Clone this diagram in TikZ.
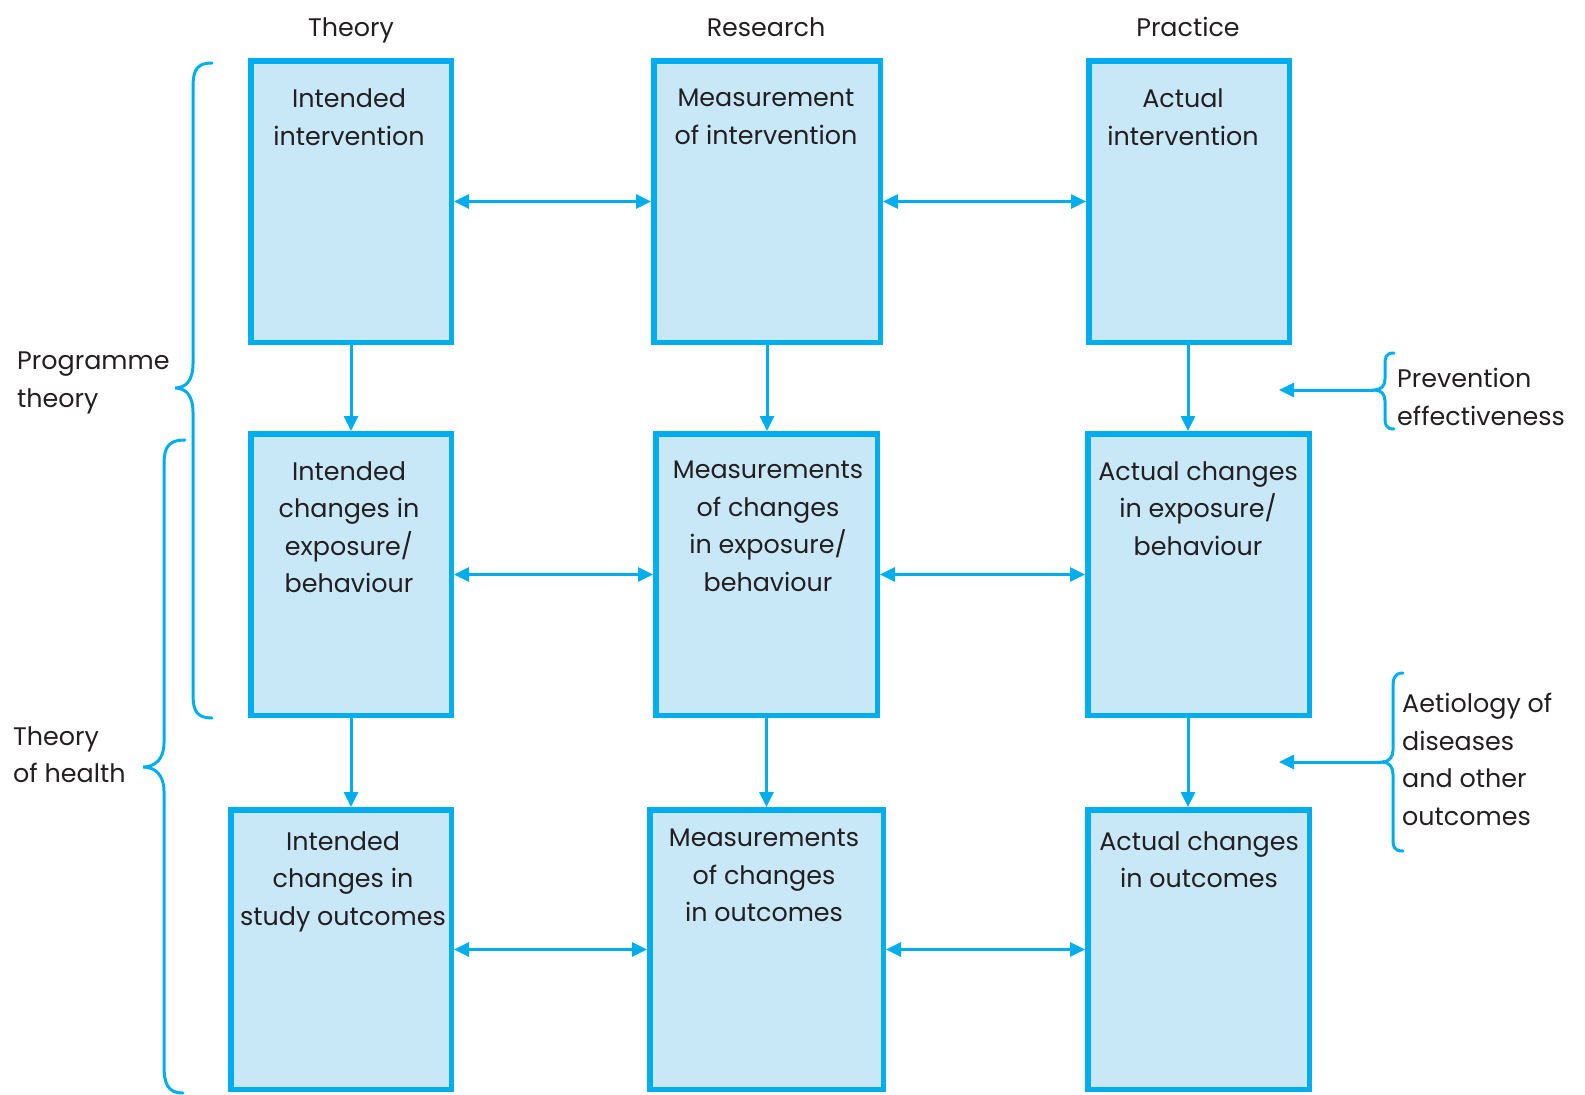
\documentclass[tikz,border=0pt]{standalone}
\usepackage{fontspec}
\setmainfont{Poppins}
\usetikzlibrary{arrows.meta,calc}
\definecolor{cy}{HTML}{00AEEF}
\definecolor{fl}{HTML}{C8E8F8}
\definecolor{tx}{HTML}{231F20}
\begin{document}
\begin{tikzpicture}[x=1pt,y=-1pt,
 box/.style={draw=cy, fill=fl, line width=5.5pt, inner sep=0pt},
 txt/.style={text=tx, align=center, anchor=north, inner sep=0pt, font=\fontsize{25.4}{37.6}\selectfont, execute at begin node=\strut},
 ltxt/.style={text=tx, align=left, anchor=north west, inner sep=0pt, font=\fontsize{25.4}{37.6}\selectfont, execute at begin node=\strut},
 hd/.style={text=tx, anchor=base, inner sep=0pt, font=\fontsize{25.4}{37.6}\selectfont},
 arr/.style={draw=cy, line width=3pt, -{Triangle[length=15pt,width=14pt]}},
 darr/.style={draw=cy, line width=3pt, {Triangle[length=15pt,width=14pt]}-{Triangle[length=15pt,width=14pt]}},
 brc/.style={draw=cy, line width=3pt, line cap=round}]
\useasboundingbox (0,0) rectangle (1585,1095);

% headers
\node[hd] (hT) at (351,36) {Theory};
\node[hd] (hR) at (766,36) {Research};
\node[hd] (hP) at (1188,36) {Practice};

% boxes
\node[box, minimum width=200.5pt, minimum height=281.5pt] (T1) at (351,201.5) {};
\node[box, minimum width=226.5pt, minimum height=281.5pt] (R1) at (767,201.5) {};
\node[box, minimum width=200.5pt, minimum height=281.5pt] (P1) at (1189,201.5) {};
\node[box, minimum width=200.5pt, minimum height=281.5pt] (T2) at (351,574.5) {};
\node[box, minimum width=221.5pt, minimum height=281.5pt] (R2) at (766.5,574.5) {};
\node[box, minimum width=221.5pt, minimum height=281.5pt] (P2) at (1198.5,574.5) {};
\node[box, minimum width=220.5pt, minimum height=279.5pt] (T3) at (341,949.5) {};
\node[box, minimum width=233.5pt, minimum height=279.5pt] (R3) at (766.5,949.5) {};
\node[box, minimum width=221.5pt, minimum height=279.5pt] (P3) at (1198.5,949.5) {};

% box texts
\node[txt] (T1t) at (349,89) {Intended\\intervention};
\node[txt] (R1t) at (766,89) {Measurement\\of intervention};
\node[txt] (P1t) at (1183,89) {Actual\\intervention};
\node[txt] (T2t) at (349,461) {Intended\\changes in\\exposure/\\behaviour};
\node[txt] (R2t) at (768,461) {Measurements\\of changes\\in exposure/\\behaviour};
\node[txt] (P2t) at (1198,461) {Actual changes\\in exposure/\\behaviour};
\node[txt] (T3t) at (343,831) {Intended\\changes in\\study outcomes};
\node[txt] (R3t) at (764,829) {Measurements\\of changes\\in outcomes};
\node[txt] (P3t) at (1199,831) {Actual changes\\in outcomes};

% horizontal arrows
\draw[darr] (T1.east) -- (R1.west);
\draw[darr] (R1.east) -- (P1.west);
\draw[darr] (T2.east) -- (R2.west);
\draw[darr] (R2.east) -- (P2.west);
\draw[darr] (T3.east) -- (R3.west);
\draw[darr] (R3.east) -- (P3.west);

% vertical arrows
\coordinate (pc) at (1188,0);
\draw[arr] (T1.south) -- (T1.south |- T2.north);
\draw[arr] (R1.south) -- (R1.south |- R2.north);
\draw[arr] (pc |- P1.south) -- (pc |- P2.north);
\draw[arr] (T2.south) -- (T2.south |- T3.north);
\draw[arr] (R2.south) -- (R2.south |- R3.north);
\draw[arr] (pc |- P2.south) -- (pc |- P3.north);

% left braces
\draw[brc] (212,63) .. controls (193,63) and (193,75) .. (193,92) -- (193,364) .. controls (193,380) and (186,388) .. (175,388) .. controls (186,388) and (193,396) .. (193,412) -- (193,690) .. controls (193,706) and (193,718) .. (212,718);
\node[ltxt] (pt) at (17,352) {Programme\\theory};

\draw[brc] (185,440) .. controls (164,440) and (164,452) .. (164,470) -- (164,743) .. controls (164,759) and (155,767) .. (143,767) .. controls (155,767) and (164,775) .. (164,791) -- (164,1066) .. controls (164,1084) and (168,1093) .. (183,1093);
\node[ltxt] (th) at (13,726) {Theory\\of health};

% right braces
\coordinate (pb) at (1374,390);
\coordinate (pe) at (1279,390);
\draw[brc] (1394,353) .. controls (1385,353) and (1385,358) .. (1385,366) -- (1385,379) .. controls (1385,386) and (1381,390) .. (pb) .. controls (1381,390) and (1385,394) .. (1385,401) -- (1385,416) .. controls (1385,424) and (1385,429) .. (1394,429);
\draw[arr] (pb) -- (pe);
\node[ltxt] (pv) at (1397,368) {Prevention\\effectiveness};

\coordinate (ab) at (1382,762);
\coordinate (ae) at (1279,762);
\draw[brc] (1403,673) .. controls (1393,673) and (1393,680) .. (1393,690) -- (1393,750) .. controls (1393,757) and (1389,762) .. (ab) .. controls (1389,762) and (1393,767) .. (1393,774) -- (1393,836) .. controls (1393,846) and (1393,851) .. (1403,851);
\draw[arr] (ab) -- (ae);
\node[ltxt] (ae2) at (1402,693) {Aetiology of\\diseases\\and other\\outcomes};
\end{tikzpicture}
\end{document}
